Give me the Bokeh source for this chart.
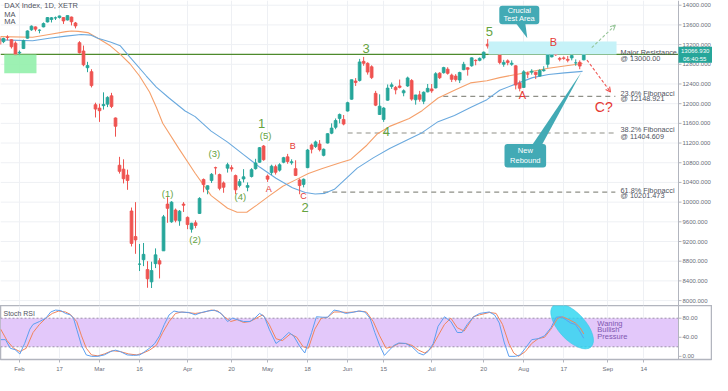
import pandas as pd
from bokeh.plotting import figure
from bokeh.layouts import column
from bokeh.models import (ColumnDataSource, Range1d, FixedTicker, Span, BoxAnnotation,
                          PolyAnnotation, Label, Arrow, OpenHead)
from bokeh.embed import file_html
from bokeh.resources import INLINE

# ---------------- data ----------------
holidays = ["2020-04-10", "2020-04-13", "2020-05-01", "2020-06-01"]
first_day = "2020-01-27"

opens = [13340, 13260, 13350, 13300, 13230, 13030, 13120, 13330, 13500, 13560,
         13490, 13560, 13660, 13710, 13740, 13750, 13750, 13700, 13760, 13640,
         13240, 13070, 12730, 12650, 11980, 11910, 11960, 11990, 12160, 11710,
         10750, 10670, 10550, 9820, 9300, 8740, 8830, 8630, 8380, 8750,
         8810, 9010, 9960, 9600, 9840, 9620, 9960, 9690, 9450, 9580,
         9770, 10460, 10260, 10440, 10700, 10560, 10390, 10690, 10700, 10540,
         10340, 10470, 10300, 10520, 10680, 10810, 11140, 10530, 10600, 10720,
         10650, 10810, 10920, 10800, 10680, 10450, 10360, 10700, 11160, 11130,
         11180, 10950, 11200, 11400, 11520, 11700, 11680, 11850, 12090, 12460,
         12470, 12860, 12820, 12750, 12210, 11780, 11680, 12070, 12350, 12330,
         12360, 12220, 12360, 12470, 12080, 12180, 12050, 12240, 12300, 12320,
         12620, 12630, 12700, 12580, 12560, 12480, 12690, 12730, 12770, 12880,
         12880, 12930, 13210, 13150, 13110, 12990, 12800, 12870, 12800, 12770,
         12420, 12330, 12610, 12640, 12640, 12560, 12670, 12800, 12950, 13060,
         12920, 12930, 12900, 12930, 12830, 12840, 12890]
highs = [13370, 13340, 13390, 13310, 13265, 13080, 13300, 13490, 13590, 13570,
         13510, 13650, 13760, 13760, 13770, 13790, 13760, 13795, 13770, 13660,
         13270, 13180, 12850, 12700, 12020, 12000, 12230, 12150, 12220, 11720,
         10920, 10870, 10660, 9890, 10000, 9150, 9170, 8800, 8790, 9060,
         8860, 9740, 10100, 10020, 9870, 9840, 10000, 9710, 9580, 9630,
         10100, 10480, 10340, 10590, 10720, 10580, 10420, 10800, 10750, 10560,
         10470, 10670, 10400, 10690, 10880, 11120, 11160, 10560, 10760, 10760,
         10790, 10920, 10980, 10870, 10850, 10480, 10480, 11080, 11190, 11250,
         11260, 11090, 11400, 11600, 11700, 11800, 11770, 12040, 12490, 12520,
         12910, 12950, 12840, 12780, 12260, 12190, 11930, 12390, 12430, 12360,
         12490, 12290, 12550, 12500, 12180, 12260, 12250, 12400, 12400, 12640,
         12640, 12750, 12740, 12610, 12600, 12650, 12850, 12740, 12940, 12900,
         12940, 13060, 13313, 13190, 13180, 13020, 12890, 12900, 12880, 12780,
         12470, 12680, 12650, 12700, 12650, 12700, 12760, 13020, 13070, 13080,
         12950, 12960, 12970, 13000, 12900, 12880, 13080]
lows = [13180, 13230, 13290, 13120, 12970, 12960, 13110, 13320, 13480, 13470,
        13430, 13550, 13650, 13650, 13700, 13730, 13620, 13690, 13590, 13530,
        13020, 12760, 12640, 12330, 11720, 11630, 11880, 11930, 11910, 11330,
        10580, 10380, 10250, 9100, 8950, 8600, 8700, 8260, 8255, 8660,
        8450, 9010, 9580, 9580, 9590, 9520, 9800, 9450, 9380, 9470,
        9760, 10200, 10160, 10390, 10560, 10240, 10190, 10600, 10620, 10160,
        10300, 10400, 10220, 10500, 10660, 10800, 10840, 10410, 10550, 10560,
        10620, 10790, 10780, 10760, 10530, 10160, 10300, 10690, 10990, 11100,
        11030, 10930, 11190, 11380, 11480, 11600, 11560, 11840, 12080, 12360,
        12450, 12770, 12590, 12500, 11950, 11770, 11630, 12060, 12300, 12190,
        12310, 12150, 12340, 12060, 11980, 12040, 11990, 12230, 12220, 12310,
        12500, 12610, 12590, 12440, 12450, 12420, 12680, 12570, 12750, 12780,
        12860, 12900, 13120, 13040, 13060, 12800, 12750, 12780, 12770, 12290,
        12250, 12320, 12520, 12590, 12500, 12550, 12650, 12730, 12940, 12970,
        12860, 12890, 12840, 12880, 12770, 12700, 12880]
closes = [13205, 13324, 13345, 13157, 12982, 13045, 13281, 13478, 13575, 13514,
          13494, 13627, 13749, 13745, 13744, 13783, 13681, 13789, 13664, 13579,
          13035, 12790, 12774, 12367, 11890, 11857, 11985, 12128, 11944, 11541,
          10625, 10475, 10439, 9161, 9232, 8742, 8939, 8442, 8610, 8929,
          8741, 9701, 9874, 10000, 9632, 9816, 9936, 9544, 9571, 9525,
          10075, 10356, 10333, 10565, 10696, 10280, 10302, 10760, 10675, 10250,
          10416, 10514, 10336, 10660, 10796, 11107, 10862, 10467, 10730, 10606,
          10759, 10904, 10825, 10820, 10542, 10337, 10465, 11058, 11075, 11223,
          11066, 11074, 11391, 11504, 11657, 11781, 11586, 12021, 12487, 12431,
          12848, 12820, 12642, 12530, 11970, 11949, 11911, 12316, 12382, 12281,
          12331, 12262, 12523, 12093, 12177, 12089, 12232, 12311, 12260, 12608,
          12528, 12733, 12616, 12494, 12489, 12633, 12800, 12697, 12931, 12874,
          12920, 13046, 13171, 13104, 13103, 12838, 12839, 12835, 12822, 12379,
          12313, 12647, 12600, 12660, 12591, 12674, 12687, 13005, 13058, 12993,
          12901, 12920, 12881, 12977, 12830, 12764, 13066.93]

# moving averages (bar position, value)
ma_fast_x = [0.0, 8.3, 12.4, 16.6, 18.0, 19.7, 22.1, 24.6, 27.7, 30.2, 32.6, 35.0, 37.5, 39.2,
             40.8, 44.8, 48.9, 52.9, 57.0, 59.4, 61.8, 64.3, 67.5, 70.8, 74.0, 77.2, 80.5,
             85.3, 87.8, 91.8, 94.3, 97.5, 102.4, 105.6, 109.6, 113.7, 117.7, 121.8, 125.0,
             129.1, 133.2, 137.2, 141.2, 145.7]
ma_fast = [13362, 13348, 13405, 13463, 13476, 13469, 13444, 13329, 13175, 13003, 12811, 12562,
           12236, 11929, 11603, 11092, 10586, 10132, 9876, 9794, 9794, 9940, 10132, 10323,
           10452, 10580, 10676, 10803, 10868, 11156, 11378, 11539, 11699, 11858, 12115, 12274,
           12422, 12466, 12529, 12594, 12657, 12721, 12767, 12817]
ma_slow_x = [0.0, 8.3, 12.4, 16.6, 20.4, 22.9, 24.6, 27.7, 30.2, 32.6, 36.7, 39.2, 42.3, 46.4,
             48.9, 52.9, 57.0, 61.0, 65.1, 69.1, 73.2, 76.4, 78.9, 81.3, 83.7, 89.4, 93.4,
             97.5, 101.6, 105.6, 109.6, 113.7, 117.7, 121.8, 125.0, 129.1, 133.2, 137.2,
             141.2, 145.7]
ma_slow = [13296, 13277, 13329, 13373, 13405, 13392, 13329, 13252, 13175, 12945, 12562, 12337,
           12120, 11852, 11737, 11443, 11219, 10964, 10707, 10484, 10293, 10197, 10164, 10178,
           10260, 10690, 10899, 11091, 11252, 11411, 11635, 11762, 11923, 12082, 12274, 12402,
           12529, 12594, 12625, 12657]

# Stoch RSI (bar position, value)
k_x = [0.3, 1.5, 2.7, 3.9, 5.1, 6.3, 7.6, 8.4, 10.0, 11.6, 12.8, 14.0, 15.3, 16.5, 17.7, 18.5,
       19.3, 20.5, 21.7, 23.0, 24.6, 26.2, 27.8, 29.0, 30.2, 31.9, 33.5, 35.1, 36.3, 37.5,
       38.8, 40.0, 41.2, 42.4, 43.6, 44.8, 47.3, 48.9, 50.5, 52.1, 53.7, 55.4, 57.0, 58.2,
       59.4, 61.0, 62.6, 63.8, 65.0, 66.2, 67.4, 69.1, 70.7, 72.3, 73.5, 75.1, 76.3, 78.0,
       79.2, 80.8, 82.0, 83.6, 84.9, 86.5, 88.1, 89.7, 91.3, 92.6, 93.8, 95.0, 96.2, 97.4,
       98.6, 99.8, 101.5, 103.1, 104.7, 105.9, 107.1, 108.4, 109.6, 111.2, 112.8, 114.4,
       115.6, 116.9, 118.5, 120.0, 122.4, 123.7, 124.9, 126.1, 127.3, 128.9, 130.1, 131.4,
       133.0, 134.6, 136.2, 137.8, 139.1, 140.3, 141.5, 142.7, 143.9, 144.7, 146.0]
k_val = [35, 35, 17, 14, 5, 27, 57, 67, 73, 80, 93, 97, 96, 90, 87, 80,
         57, 23, 3, 0, 0, 3, 10, 13, 10, 3, 2, 3, 10, 17,
         27, 43, 67, 87, 95, 93, 92, 87, 92, 95, 97, 90, 73, 80,
         77, 73, 73, 80, 90, 83, 57, 27, 37, 50, 43, 20, 7, 50,
         83, 82, 82, 97, 95, 90, 92, 95, 93, 80, 50, 23, 2, 13,
         23, 28, 27, 20, 7, 3, 10, 27, 63, 83, 73, 50,
         50, 67, 83, 90, 93, 87, 70, 30, 0, 0, 3, 17,
         35, 37, 43, 60, 82, 83, 77, 70, 67, 57, 38]
d_x = [0.3, 1.9, 3.5, 5.1, 6.7, 8.4, 10.0, 11.6, 13.2, 14.8, 16.5, 17.7, 19.3, 20.5, 21.7,
       23.0, 24.6, 26.2, 28.2, 30.2, 32.3, 34.3, 35.9, 37.5, 39.2, 40.8, 42.4, 44.0, 45.6,
       48.9, 50.9, 52.9, 54.6, 56.2, 57.8, 59.4, 61.0, 62.6, 64.2, 65.8, 67.4, 69.1, 70.7,
       72.7, 74.3, 75.9, 77.2, 78.8, 80.4, 82.0, 83.6, 85.3, 86.9, 88.5, 90.1, 91.7, 93.4,
       95.0, 96.6, 98.2, 99.8, 101.5, 103.1, 104.7, 106.3, 107.9, 109.6, 111.2, 112.8,
       114.4, 116.1, 117.7, 118.4, 120.0, 122.4, 124.1, 125.7, 127.3, 128.5, 129.7, 131.4,
       133.0, 134.6, 136.2, 137.8, 139.5, 140.7, 142.3, 143.9, 145.1, 146.0]
d_val = [57, 33, 17, 10, 17, 50, 67, 80, 90, 95, 93, 88, 73, 43, 17,
         3, 1, 5, 12, 10, 5, 3, 7, 13, 23, 50, 73, 90, 93,
         90, 92, 97, 95, 83, 73, 77, 71, 73, 80, 87, 67, 37, 33,
         47, 40, 20, 17, 57, 80, 82, 93, 93, 92, 93, 95, 93, 73,
         43, 17, 20, 27, 27, 23, 13, 7, 17, 43, 67, 80,
         60, 53, 73, 83, 87, 92, 90, 67, 27, 7, 0, 10,
         27, 37, 40, 57, 80, 83, 77, 70, 60, 47]

fib_levels = [12148.921, 11404.609, 10201.473]
fib_names = ["23.6% Fibonacci", "38.2% Fibonacci", "61.8% Fibonacci"]
resistance = 13000.00
last_price = 13066.930
countdown = "06:40:55"
price_ticks = list(range(8000, 14001, 400))
stoch_ticks = [0, 40, 80]
stoch_bands = [80, 20]

tick_dates = ["2020-02-03", "2020-02-17", "2020-03-02", "2020-03-16", "2020-04-01", "2020-04-20",
              "2020-05-04", "2020-05-18", "2020-06-02", "2020-06-15", "2020-07-01", "2020-07-20",
              "2020-08-03", "2020-08-17", "2020-09-01", "2020-09-14"]
tick_labels = ["Feb", "17", "Mar", "16", "Apr", "20", "May", "18", "Jun", "15", "Jul", "20",
               "Aug", "17", "Sep", "14"]

# ---------------- calendar (trading days) ----------------
cal = [d.strftime("%Y-%m-%d") for d in pd.bdate_range(first_day, "2020-10-30")
       if d.strftime("%Y-%m-%d") not in holidays]
pos = {d: i for i, d in enumerate(cal)}
tick_pos = [pos[d] for d in tick_dates]

UP, DOWN = "#26a69a", "#ef5350"
bars = ColumnDataSource(dict(
    x=list(range(len(closes))),
    open=opens, high=highs, low=lows, close=closes,
    top=[max(o, c) for o, c in zip(opens, closes)],
    bottom=[min(o, c) for o, c in zip(opens, closes)],
    color=[UP if c >= o else DOWN for o, c in zip(opens, closes)],
))

FONT = "Liberation Sans"
PLOT_W = 678          # width of the chart area
STRIP = 34            # price-scale strip on the right
FW = PLOT_W + STRIP
X0, X1 = 0.26, 169.68  # bar range shown in chart area
PPU = PLOT_W / (X1 - X0)
XEND = X0 + FW / PPU
GRID = "#eef0f4"
AXIS = "#b2b5be"
TXT = "#50535e"
AXT = "#6a6d78"
GREEN_T = "#65a33f"
RED_T = "#e53935"
TEAL = "#42aab5"

xr = Range1d(X0, XEND)

def lab(fig, x, y, text, size, color, align="center", baseline="middle"):
    fig.add_layout(Label(x=x, y=y, text=text, text_font_size=size, text_color=color,
                         text_align=align, text_baseline=baseline, text_font=FONT))

def price_scale(fig, ticks, fmt):
    fig.add_layout(Span(location=X1, dimension="height", line_color=AXIS, line_width=1))
    fig.segment(x0=[X1] * len(ticks), x1=[X1 + 3 / PPU] * len(ticks), y0=ticks, y1=ticks,
                line_color=AXIS, line_width=1)
    for t in ticks:
        lab(fig, X1 + 4 / PPU, t, fmt.format(t), "6px", AXT, "left")

# ---------------- main panel ----------------
p = figure(frame_width=FW, frame_height=305, x_range=xr, y_range=Range1d(7900, 14096),
           x_axis_location=None, y_axis_location=None, toolbar_location=None,
           output_backend="svg", min_border_left=0, min_border_right=0, min_border_top=0,
           min_border_bottom=0, outline_line_color=None)
p.xgrid.ticker = FixedTicker(ticks=tick_pos)
p.xgrid.grid_line_color = GRID
p.ygrid.grid_line_color = None
p.segment(x0=[X0] * len(price_ticks), x1=[X1] * len(price_ticks), y0=price_ticks,
          y1=price_ticks, line_color=GRID, line_width=1)

# zones
p.add_layout(BoxAnnotation(left=1.2, right=9.25, bottom=12620, top=resistance,
                           fill_color="#92f0ab", fill_alpha=0.9, line_color=None))
p.add_layout(BoxAnnotation(left=122.2, right=154.2, bottom=resistance, top=13265,
                           fill_color="#c6f2f8", fill_alpha=1.0, line_color=None))
p.segment(x0=[X0], x1=[X1], y0=[resistance], y1=[resistance], line_color="#4e8a2c",
          line_width=1.3)

# fib lines
fib_start = [110.9, 87.0, 80.9]
for lvl, x0 in zip(fib_levels, fib_start):
    p.segment(x0=[x0], x1=[153.9], y0=[lvl], y1=[lvl], line_color="#8f9088",
              line_width=1.2, line_dash="5 4")

# moving averages
p.line(ma_fast_x, ma_fast, line_color="#f5a06b", line_width=1.1)
p.line(ma_slow_x, ma_slow, line_color="#6aa9de", line_width=1.1)

# candles
p.segment(x0="x", x1="x", y0="low", y1="high", line_color="color", line_width=1, source=bars)
p.vbar(x="x", width=0.7, top="top", bottom="bottom", fill_color="color", line_color="color",
       line_width=0.8, source=bars)

price_scale(p, price_ticks, "{:.3f}")

# legend
lab(p, 1.2, 13985, "DAX Index, 1D, XETR", "7.5px", TXT, "left")
lab(p, 1.2, 13815, "MA", "7.5px", TXT, "left")
lab(p, 1.2, 13660, "MA", "7.5px", TXT, "left")

# right-hand level labels
lab(p, 155.2, 13041, "Major Resistance", "7.3px", TXT, "left")
lab(p, 155.2, 12910, "@ " + f"{resistance:.2f}", "7.3px", TXT, "left")
fib_label_y = [(12215, 12100), (11468, 11335), (10245, 10130)]
for name, lvl, (y1, y2) in zip(fib_names, fib_levels, fib_label_y):
    lab(p, 155.2, y1, name, "7.3px", TXT, "left")
    lab(p, 155.2, y2, "@ " + f"{lvl:.3f}", "7.3px", TXT, "left")

# scenario arrows
p.add_layout(Arrow(end=OpenHead(size=5, line_color="#98c69a", line_width=1.1),
                   x_start=148.0, y_start=13137, x_end=153.9, y_end=13597,
                   line_color="#98c69a", line_width=1.1, line_dash="3 2"))
p.add_layout(Arrow(end=OpenHead(size=5, line_color="#ef5350", line_width=1.1),
                   x_start=146.8, y_start=12888, x_end=152.7, y_end=12236,
                   line_color="#ef5350", line_width=1.1, line_dash="3 2"))

# wave labels
for x, y, t, s in [(42.0, 10183, "(1)", "9.5px"), (48.9, 9244, "(2)", "9.5px"),
                   (53.7, 10983, "(3)", "9.5px"), (60.2, 10112, "(4)", "9.5px"),
                   (66.5, 11348, "(5)", "9.5px"), (65.5, 11589, "1", "13px"),
                   (76.4, 9891, "2", "13px"), (91.6, 13124, "3", "13px"),
                   (96.7, 11443, "4", "13px"), (122.4, 13457, "5", "13px")]:
    lab(p, x, y, t, s, GREEN_T)
for x, y, t, s in [(67.3, 10260, "A", "9px"), (73.3, 11143, "B", "9px"),
                   (76.0, 10120, "C", "9px"), (130.7, 12178, "A", "11px"),
                   (138.4, 13246, "B", "11px"), (151.0, 11923, "C?", "14px")]:
    lab(p, x, y, t, s, RED_T)

# callouts
p.add_layout(BoxAnnotation(left=124.9, right=134.9, bottom=13616, top=13990,
                           fill_color=TEAL, fill_alpha=1, line_color=None, border_radius=3))
p.add_layout(PolyAnnotation(xs=[129.1, 131.4, 131.9], ys=[13630, 13630, 13329],
                            fill_color=TEAL, fill_alpha=1, line_color=None))
lab(p, 129.9, 13890, "Crucial", "7.5px", "white")
lab(p, 129.9, 13722, "Test Area", "7.5px", "white")
p.add_layout(BoxAnnotation(left=126.2, right=136.6, bottom=10701, top=11181,
                           fill_color=TEAL, fill_alpha=1, line_color=None, border_radius=3))
p.add_layout(PolyAnnotation(xs=[133.2, 135.6, 145.4], ys=[11170, 11170, 12638],
                            fill_color=TEAL, fill_alpha=1, line_color=None))
lab(p, 131.4, 11056, "New", "7.5px", "white")
lab(p, 131.4, 10845, "Rebound", "7.5px", "white")

# last price tag on the price scale
p.add_layout(BoxAnnotation(left=X1, right=XEND, bottom=12830, top=13156,
                           fill_color="#26a69a", fill_alpha=1, line_color=None))
lab(p, X1 + 2.5 / PPU, last_price, f"{last_price:.3f}", "6px", "white", "left")
lab(p, X1 + 4.5 / PPU, 12915, countdown, "6px", "white", "left")

# ---------------- Stoch RSI panel ----------------
s = figure(frame_width=FW, frame_height=54, x_range=xr, y_range=Range1d(-6.6, 106.6),
           y_axis_location=None, toolbar_location=None, output_backend="svg",
           min_border_left=0, min_border_right=0, min_border_top=0, min_border_bottom=0,
           outline_line_color=AXIS, outline_line_width=1.5)
s.xgrid.ticker = FixedTicker(ticks=tick_pos)
s.xgrid.grid_line_color = GRID
s.ygrid.grid_line_color = None
s.add_layout(BoxAnnotation(left=X0, right=X1, bottom=stoch_bands[1], top=stoch_bands[0],
                           fill_color="#e3c8fa", fill_alpha=1, line_color=None,
                           level="underlay"))
s.segment(x0=[X0] * 2, x1=[X1] * 2, y0=stoch_bands, y1=stoch_bands, line_color="#9a8fa8",
          line_width=1, line_dash="2 2")
s.ellipse(x=[143.1], y=[63], width=56, height=27, width_units="screen",
          height_units="screen", angle=-0.83, fill_color="#28d6f0", fill_alpha=0.8,
          line_color="#3cc7e6", line_alpha=0.6)
s.line(d_x, d_val, line_color="#f0845c", line_width=1)
s.line(k_x, k_val, line_color="#5c9ff0", line_width=1)
lab(s, 1.0, 90, "Stoch RSI", "7px", TXT, "left")
lab(s, 149.4, 68.6, "Waning", "7.5px", "#7e57b0", "left")
lab(s, 149.4, 55.4, "Bullish", "7.5px", "#7e57b0", "left")
lab(s, 149.4, 42.0, "Pressure", "7.5px", "#7e57b0", "left")
price_scale(s, stoch_ticks, "{:.2f}")

s.xaxis.ticker = FixedTicker(ticks=tick_pos)
s.xaxis.major_label_overrides = {tp: tl for tp, tl in zip(tick_pos, tick_labels)}
ax = s.xaxis[0]
ax.axis_line_color = AXIS
ax.major_tick_line_color = AXIS
ax.major_tick_out = 3
ax.major_tick_in = 0
ax.minor_tick_line_color = None
ax.major_label_text_font_size = "6px"
ax.major_label_text_color = AXT
ax.major_label_text_font = FONT
ax.major_label_standoff = 3

layout = column(p, s, spacing=0)
open("out.html", "w").write(file_html(layout, INLINE))
